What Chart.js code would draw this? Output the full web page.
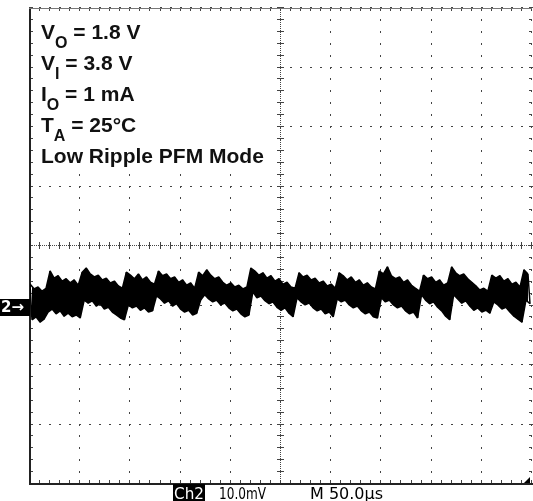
<!DOCTYPE html>
<html><head><meta charset="utf-8">
<script src="https://cdn.jsdelivr.net/npm/chart.js@4.4.0/dist/chart.umd.min.js"></script>
<style>html,body{margin:0;padding:0;background:#fff;overflow:hidden}#wrap{width:533px;height:501px;position:relative}</style>
</head><body><div id="wrap"><canvas id="c" width="533" height="501"></canvas></div>
<script>
// Scope settings (Ch2 10.0 mV/div, M 50.0 µs/div), 10 x 8 divisions
const voltPerDivMv = 10;
const timePerDivUs = 50;
const xDivisionTicksUs = [0, 50, 100, 150, 200, 250, 300, 350, 400, 450, 500];
const yDivisionTicksMv = [-40, -30, -20, -10, 0, 10, 20, 30, 40];
const groundMarkerMv = -10.3;
const sampleStepUs = 4;

// Upper envelope of the noisy output ripple (mV), at t = 0, 4, 8, ... µs
const rippleUpperMv = [
 -6.4,-7.2,-6.9,-7.6,-7.1,-4.2,-5.4,-5.0,-5.9,-5.5,-6.2,-5.7,-6.6,-4.4,-3.7,-4.7,-5.2,-4.9,-5.7,-5.4,
 -6.2,-5.9,-6.7,-7.1,-4.4,-4.9,-5.5,-4.7,-5.7,-5.2,-6.1,-6.4,-4.2,-5.0,-4.7,-5.5,-5.2,-6.1,-5.7,-6.6,
 -6.2,-7.1,-4.4,-5.0,-4.0,-4.9,-5.5,-5.2,-6.1,-6.6,-6.2,-6.9,-6.6,-7.2,-6.9,-3.7,-4.2,-4.9,-4.5,-5.4,
 -5.0,-5.9,-5.5,-6.4,-6.1,-6.9,-7.1,-4.5,-5.2,-4.9,-5.7,-5.4,-6.2,-5.9,-6.7,-6.4,-7.1,-4.5,-5.0,-5.7,
 -5.2,-6.1,-5.7,-6.6,-6.2,-6.9,-7.2,-4.2,-4.7,-3.5,-5.0,-5.5,-5.2,-6.1,-5.7,-6.6,-7.1,-7.6,-4.9,-5.5,
 -5.2,-6.1,-5.7,-6.6,-6.2,-3.5,-4.5,-5.0,-4.7,-5.5,-6.1,-6.7,-7.4,-7.1,-7.6,-4.9,-5.4,-5.0,-5.9,-5.5,
 -6.4,-6.1,-6.9,-4.0,-4.7
];
// Lower envelope (mV), at t = 2, 6, 10, ... µs
const rippleLowerMv = [
 -12.4,-11.9,-12.8,-12.3,-11.1,-10.6,-11.4,-10.9,-11.8,-11.3,-11.9,-11.6,-12.1,-9.1,-9.6,-9.2,-10.1,-9.7,-10.6,-10.3,
 -11.1,-11.6,-12.1,-12.4,-9.9,-10.4,-10.1,-10.8,-10.4,-11.1,-10.9,-8.4,-8.9,-9.6,-9.2,-10.1,-9.7,-10.6,-11.1,-10.8,
 -11.6,-11.3,-9.1,-8.2,-8.9,-9.4,-9.1,-9.9,-9.6,-10.4,-10.9,-10.6,-11.4,-11.9,-11.6,-7.7,-8.7,-8.4,-9.2,-9.7,
 -9.4,-10.3,-10.8,-10.4,-11.3,-11.9,-8.7,-9.4,-9.9,-9.6,-10.4,-10.9,-10.6,-11.4,-11.1,-11.9,-8.9,-9.4,-9.1,-9.9,
 -10.4,-10.1,-10.9,-11.4,-11.1,-11.9,-12.1,-8.7,-9.4,-9.1,-9.9,-10.4,-10.1,-10.9,-11.4,-11.1,-12.1,-8.2,-9.1,-9.7,
 -9.4,-10.3,-10.9,-11.8,-12.4,-8.2,-8.9,-9.6,-9.2,-10.1,-10.8,-10.4,-11.1,-10.8,-11.3,-9.4,-9.9,-10.6,-10.3,-11.1,
 -11.8,-12.3,-12.8,-9.1,-9.7
];

const annotationLines = [
  [["V",0],["O",1],[" = 1.8 V",0]],
  [["V",0],["I",1],[" = 3.8 V",0]],
  [["I",0],["O",1],[" = 1 mA",0]],
  [["T",0],["A",1],[" = 25°C",0]],
  [["Low Ripple PFM Mode",0]]
];
const channelLabel = "Ch2";
const voltLabel = "10.0mV";
const timeLabel = "M 50.0µs";
const markerLabel = "2→";

// Envelope point sets built from the arrays
const upperPoints = rippleUpperMv.map((v, i) => ({x: i * sampleStepUs, y: v}));
const lowerPoints = rippleLowerMv.map((v, i) => ({x: i * sampleStepUs + sampleStepUs / 2, y: v}));
// zig-zag between the envelopes (noise texture)
const tracePoints = [];
for (let i = 0; i < upperPoints.length; i++) {
  tracePoints.push(upperPoints[i]);
  if (i < lowerPoints.length) tracePoints.push(lowerPoints[i]);
}

const xMin = xDivisionTicksUs[0], xMax = xDivisionTicksUs[xDivisionTicksUs.length - 1];
const yMin = yDivisionTicksMv[0], yMax = yDivisionTicksMv[yDivisionTicksMv.length - 1];
const minorX = timePerDivUs / 5, minorY = voltPerDivMv / 5;

const scopeGrid = {
  id: 'scopeGrid',
  beforeDatasetsDraw(chart) {
    const {ctx, chartArea: a, scales: {x, y}} = chart;
    ctx.save();
    const L = Math.round(a.left), R = Math.round(a.right), T = Math.round(a.top), B = Math.round(a.bottom);
    const nMinX = Math.round((xMax - xMin) / minorX), nMinY = Math.round((yMax - yMin) / minorY);
    ctx.fillStyle = '#444';
    for (const xv of xDivisionTicksUs) {
      const px = Math.round(x.getPixelForValue(xv));
      for (let k = 0; k <= nMinY; k++) {
        const py = Math.round(y.getPixelForValue(yMin + k * minorY));
        ctx.fillRect(px - 1, py - 1, 1, 2);
      }
    }
    for (const yv of yDivisionTicksMv) {
      const py = Math.round(y.getPixelForValue(yv));
      for (let k = 0; k <= nMinX; k++) {
        const px = Math.round(x.getPixelForValue(xMin + k * minorX));
        ctx.fillRect(px - 1, py - 1, 2, 1);
      }
    }
    const cx = Math.round(x.getPixelForValue((xMin + xMax) / 2));
    const cy = Math.round(y.getPixelForValue((yMin + yMax) / 2));
    for (let px = L; px <= R; px += 2) ctx.fillRect(px, cy - 1, 1, 1);
    for (let py = T; py <= B; py += 2) ctx.fillRect(cx - 1, py, 1, 1);
    for (let k = 0; k <= nMinX; k++) {
      const px = Math.round(x.getPixelForValue(xMin + k * minorX));
      ctx.fillRect(px - 1, cy - 4, 1, 7);
    }
    for (let k = 0; k <= nMinY; k++) {
      const py = Math.round(y.getPixelForValue(yMin + k * minorY));
      ctx.fillRect(cx - 4, py - 1, 7, 1);
    }
    for (let k = 0; k <= nMinX; k++) {
      const px = Math.round(x.getPixelForValue(xMin + k * minorX));
      ctx.fillRect(px - 1, T, 1, 3);
      ctx.fillRect(px - 1, B - 4, 1, 3);
    }
    for (let k = 0; k <= nMinY; k++) {
      const py = Math.round(y.getPixelForValue(yMin + k * minorY));
      ctx.fillRect(L, py - 1, 3, 1);
      ctx.fillRect(R - 3, py - 1, 3, 1);
    }
    ctx.fillStyle = '#222';
    ctx.fillRect(L - 1, T, 2, B - T + 1);
    ctx.fillRect(L - 1, B - 1, R - L + 2, 2);
    ctx.fillStyle = '#777';
    ctx.fillRect(L - 1, T, 533 - L, 1);
    // annotation box
    ctx.fillStyle = '#fff';
    ctx.fillRect(34, 18, 243, 152);
    ctx.fillStyle = '#111';
    ctx.textBaseline = 'alphabetic';
    const mainFont = 'bold 21px "Liberation Sans", Arial, sans-serif';
    const subFont = 'bold 16px "Liberation Sans", Arial, sans-serif';
    annotationLines.forEach((runs, i) => {
      let tx = 41;
      const base = 39 + i * 31;
      for (const [t, sub] of runs) {
        ctx.font = sub ? subFont : mainFont;
        ctx.fillText(t, tx, sub ? base + 9 : base);
        tx += ctx.measureText(t).width;
      }
    });
    ctx.restore();
  },
  afterDraw(chart) {
    const {ctx, chartArea: a, scales: {y}} = chart;
    ctx.save();
    const my = Math.round(y.getPixelForValue(groundMarkerMv));
    ctx.fillStyle = '#000';
    ctx.fillRect(0, my - 8, Math.round(a.left), 17);
    ctx.fillStyle = '#fff';
    ctx.font = 'bold 15px "DejaVu Sans", sans-serif';
    ctx.textBaseline = 'middle';
    ctx.fillText(markerLabel, 1, my + 1);
    function fitText(t, x0, base, w, color) {
      ctx.font = '16px "DejaVu Sans", sans-serif';
      const m = ctx.measureText(t).width;
      ctx.save();
      ctx.translate(x0, base);
      ctx.scale(w / m, 1);
      ctx.fillStyle = color;
      ctx.textBaseline = 'alphabetic';
      ctx.fillText(t, 0, 0);
      ctx.restore();
    }
    ctx.fillStyle = '#000';
    ctx.fillRect(173, 484, 32, 17);
    fitText(channelLabel, 174, 499, 30, '#fff');
    fitText(voltLabel, 219, 499, 47, '#000');
    fitText(timeLabel, 310, 499, 73, '#000');
    ctx.fillStyle = '#000';
    ctx.beginPath();
    ctx.moveTo(530, 477); ctx.lineTo(530, 483); ctx.lineTo(524, 483); ctx.closePath();
    ctx.fill();
    ctx.restore();
  }
};

new Chart(document.getElementById('c'), {
  type: 'line',
  data: { datasets: [
    { data: upperPoints, borderColor: '#000', borderWidth: 1.5, pointRadius: 0, tension: 0,
      borderJoinStyle: 'bevel', fill: '+1', backgroundColor: '#000' },
    { data: lowerPoints, borderColor: '#000', borderWidth: 1.5, pointRadius: 0, tension: 0,
      borderJoinStyle: 'bevel', fill: false },
    { data: tracePoints, borderColor: '#000', borderWidth: 1.5, pointRadius: 0, tension: 0,
      borderJoinStyle: 'bevel', fill: false }
  ]},
  options: {
    responsive: false,
    animation: false,
    events: [],
    layout: { padding: { left: 30, right: 1, top: 8, bottom: 17 } },
    plugins: { legend: { display: false }, tooltip: { enabled: false }, filler: { propagate: false } },
    scales: {
      x: { type: 'linear', min: xMin, max: xMax, display: false },
      y: { type: 'linear', min: yMin, max: yMax, display: false }
    }
  },
  plugins: [scopeGrid]
});
</script>
</body></html>
